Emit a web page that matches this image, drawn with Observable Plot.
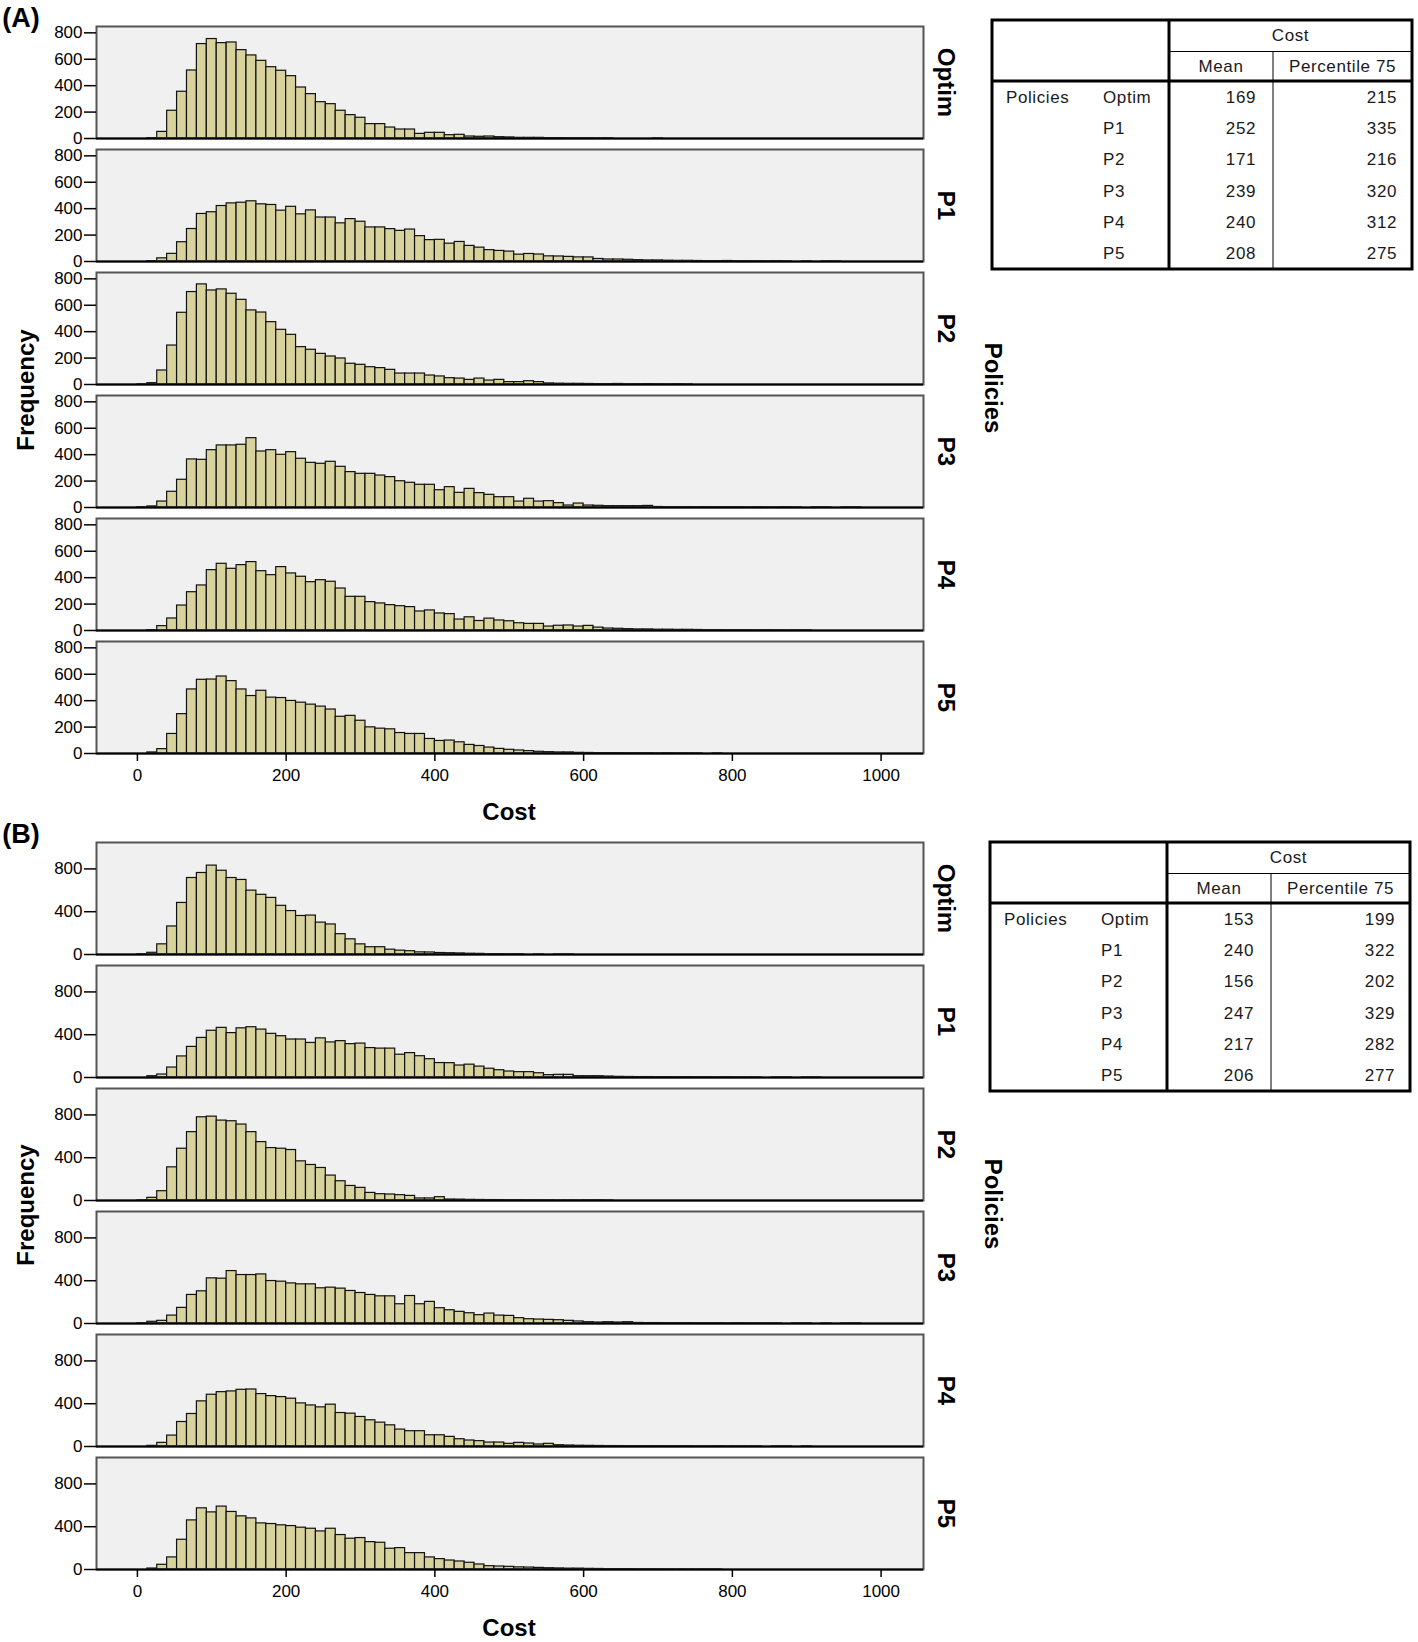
<!DOCTYPE html>
<html>
<head>
<meta charset="utf-8">
<script src="https://cdn.jsdelivr.net/npm/d3@7"></script>
<script src="https://cdn.jsdelivr.net/npm/@observablehq/plot@0.6"></script>
<style>
  body { margin: 0; background: #fff; font-family: "Liberation Sans", Arial, sans-serif; }
  #root { position: relative; width: 1418px; height: 1642px; overflow: hidden; background: #fff; }
  .abs { position: absolute; }
  .tag { position: absolute; font-weight: bold; font-size: 27px; color: #000; line-height: 1; }
  .lbl { position: absolute; font-weight: bold; font-size: 24px; color: #000; white-space: nowrap; line-height: 1; }
</style>
</head>
<body>
<div id="root"></div>
<script>
// ---------------- DATA ----------------
const policies = ["Optim", "P1", "P2", "P3", "P4", "P5"];
const binWidth = 40 / 3;               // cost units per bar (15 bars per 200)
const xTicks = [0, 200, 400, 600, 800, 1000];
const yTicksA = [0, 200, 400, 600, 800];
const yTicksB = [0, 400, 800];

// Frequencies per bin (bin i covers [i*binWidth, (i+1)*binWidth)) — panel (A)
const aOptim = [0,3,50,210,354,515,715,753,722,727,669,629,588,540,513,472,386,336,275,260,210,177,157,109,109,83,68,68,35,43,43,25,28,15,13,15,10,8,5,5,5,3,3,2,2,2,1,2,0,0,0,0,1];
const aP1 = [0,3,24,58,146,246,360,373,420,440,445,456,433,428,385,414,357,387,333,333,289,321,301,258,258,245,232,242,192,162,164,135,148,118,105,86,80,75,52,57,53,39,38,35,31,31,19,15,15,13,10,8,8,6,5,5,4,3,3,4,2,2,2,1,2,1,0,1,0,1,1];
const aP2 = [2,10,106,295,543,700,758,712,720,687,641,561,545,472,414,376,283,263,232,212,197,157,149,131,124,111,83,83,83,68,61,48,45,35,45,30,35,18,18,25,18,8,6,5,5,4,3,3,4,2,2,3,2,1,2,1];
const aP3 = [2,8,45,119,210,364,361,434,470,470,475,525,424,434,399,419,369,338,331,346,308,268,255,255,242,230,199,187,172,172,131,154,111,141,109,96,78,78,45,66,45,48,33,15,30,15,13,10,10,10,10,12,4,3,3,3,2,3,2,2,2,1,2,1,1,2,1,0,1,1,0,1,1];
const aP4 = [0,3,33,91,189,290,341,457,505,467,495,518,449,419,480,432,407,366,381,369,318,255,255,215,205,192,184,177,144,152,129,124,83,100,72,90,76,70,55,50,50,30,36,38,30,35,22,15,13,10,8,8,6,6,5,5,4,3,3,2,2,2,1,2,1,1,1,1];
const aP5 = [0,8,33,148,298,485,558,560,583,548,485,435,475,423,420,398,385,370,355,333,278,285,248,198,188,183,155,148,148,110,95,98,85,65,57,45,35,28,23,18,13,10,8,8,5,4,3,3,3,2,2,2,1,2,1,1,1,0,1];

// Frequencies per bin — panel (B)
const bOptim = [2,16,95,262,482,715,762,831,783,715,697,597,558,529,455,406,360,364,298,281,190,142,95,68,68,45,36,31,20,19,14,12,10,7,6,3,3,2,2,0,1,0,1,1];
const bP1 = [0,12,28,93,197,286,370,437,464,415,460,470,448,408,386,355,355,323,366,328,340,312,317,275,270,270,213,228,199,171,135,134,112,120,102,82,68,56,50,50,40,22,25,25,12,12,12,9,6,5,4,4,3,3,2,3,2,2,1,2,1,1,1,0,1,1,0,1,1];
const bP2 = [2,25,87,310,484,639,778,784,747,741,710,639,546,490,484,472,366,332,304,233,180,136,118,71,59,56,50,43,19,19,31,9,8,6,5,4,4,3,3,2,2,2,1,1,1,2,2,1];
const bP3 = [2,16,25,74,146,267,301,422,419,490,453,453,459,397,391,375,366,366,329,335,326,304,285,267,254,254,180,257,180,202,143,124,109,96,78,93,74,71,50,40,37,34,31,25,19,12,9,12,9,12,5,4,4,3,3,3,2,2,2,1,2,1,1,1,1,0,1,1,0,1,0,1,1];
const bP4 = [0,6,34,102,229,304,422,484,508,515,530,533,490,471,462,447,403,384,366,391,313,307,276,245,223,198,158,143,143,105,105,90,68,56,50,37,37,25,34,28,19,25,12,9,7,6,5,4,4,3,3,3,2,2,2,2,1,1,2,1,1,1,1,0,1,1,0,1];
const bP5 = [0,9,44,113,278,459,572,534,588,538,497,478,431,425,413,406,391,381,356,381,322,288,294,256,250,194,200,153,153,113,97,84,75,63,47,31,28,25,20,18,15,12,10,8,8,6,5,3,3,3,2,2,2,1,1,1,1,1,1];

// Summary tables
const tableTitle = "Cost";
const tableCols = ["Mean", "Percentile 75"];
const tableRowGroup = "Policies";
const meanA = [169, 252, 171, 239, 240, 208];
const p75A  = [215, 335, 216, 320, 312, 275];
const meanB = [153, 240, 156, 247, 217, 206];
const p75B  = [199, 322, 202, 329, 282, 277];

// ---------------- BUILD ----------------
const FONT = "'Liberation Sans', Arial, sans-serif";
const root = document.getElementById("root");

function toRows(seriesList) {
  const rows = [];
  seriesList.forEach((counts, k) => {
    counts.forEach((c, i) => {
      if (c > 0) rows.push({policy: policies[k], x1: i * binWidth, x2: (i + 1) * binWidth, count: c});
    });
  });
  return rows;
}

function histogram(rows, yMax, yTicks) {
  return Plot.plot({
    width: 1010,
    height: 833,
    marginLeft: 96,
    marginRight: 87,
    marginTop: 26,
    marginBottom: 80,
    style: {background: "transparent", fontFamily: FONT, fontSize: "17px", color: "#000", overflow: "visible"},
    x: {domain: [-55, 1057]},
    y: {domain: [0, yMax]},
    fy: {domain: policies, paddingInner: 11 / 123, paddingOuter: 0, axis: null},
    marks: [
      Plot.frame({fill: "#f0f0f0"}),
      Plot.rect(rows, {x1: "x1", x2: "x2", y1: 0, y2: "count", fy: "policy",
        fill: "#d8d39d", stroke: "#111", strokeWidth: 1.2}),
      Plot.frame({stroke: "#555", strokeWidth: 2}),
      Plot.ruleY([0], {stroke: "#000", strokeWidth: 2}),
      Plot.axisY({ticks: yTicks, tickFormat: d3.format("d"), tickSize: 12, tickPadding: 2, label: null, fontSize: 17, stroke: "#000", strokeWidth: 1.5}),
      Plot.axisX({ticks: xTicks, tickFormat: d3.format("d"), tickSize: 8, tickPadding: 7, label: null, fontSize: 17, stroke: "#000", strokeWidth: 1.5}),
      Plot.text(policies, {fy: d => d, text: d => d, frameAnchor: "right", dx: 22, rotate: 90,
        fontWeight: "bold", fontSize: 24, textAnchor: "middle", fill: "#000"})
    ]
  });
}

function place(el, left, top) {
  el.style.position = "absolute";
  el.style.left = left + "px";
  el.style.top = top + "px";
  root.appendChild(el);
}

function label(text, cls, cx, cy, rot) {
  const d = document.createElement("div");
  d.className = cls;
  d.textContent = text;
  d.style.left = cx + "px";
  d.style.top = cy + "px";
  d.style.transform = "translate(-50%,-50%)" + (rot ? ` rotate(${rot}deg)` : "");
  root.appendChild(d);
}

function drawTable(left, top, means, p75s) {
  const W = 420, H = 249;
  const vThick = 177, vThin = 281, hCost = 31.5, hHead = 61;
  const row0 = 77.5, rowStep = 31.2;
  const svg = d3.create("svg").attr("width", W + 4).attr("height", H + 4)
    .style("overflow", "visible").style("font-family", FONT).style("font-size", "17px");
  const g = svg.append("g").attr("transform", "translate(2,2)");
  const line = (x1, y1, x2, y2, w) => g.append("line").attr("x1", x1).attr("y1", y1).attr("x2", x2).attr("y2", y2)
    .attr("stroke", "#000").attr("stroke-width", w);
  g.append("rect").attr("x", 0).attr("y", 0).attr("width", W).attr("height", H)
    .attr("fill", "#fff").attr("stroke", "#000").attr("stroke-width", 3);
  line(vThick, 0, vThick, H, 3);
  line(vThin, hCost, vThin, H, 1);
  line(vThick, hCost, W, hCost, 1);
  line(0, hHead, W, hHead, 3);
  const txt = (t, x, y, anchor) => g.append("text").attr("x", x).attr("y", y).attr("text-anchor", anchor)
    .attr("dominant-baseline", "central").attr("fill", "#1a1a1a").attr("letter-spacing", "0.6px").text(t);
  txt(tableTitle, (vThick + W) / 2, 15.5, "middle");
  txt(tableCols[0], (vThick + vThin) / 2, 46.5, "middle");
  txt(tableCols[1], (vThin + W) / 2, 46.5, "middle");
  txt(tableRowGroup, 14, row0, "start");
  policies.forEach((p, i) => {
    const y = row0 + i * rowStep;
    txt(p, 111, y, "start");
    txt(String(means[i]), 264, y, "end");
    txt(String(p75s[i]), 405, y, "end");
  });
  const node = svg.node();
  place(node, left - 2, top - 2);
}

// Panel A
const chartA = histogram(toRows([aOptim, aP1, aP2, aP3, aP4, aP5]), 848, yTicksA);
place(chartA, 0, 0);
// Panel B
const chartB = histogram(toRows([bOptim, bP1, bP2, bP3, bP4, bP5]), 1047, yTicksB);
place(chartB, 0, 815.7);

// Titles / axis labels
label("(A)", "tag", 21, 18);
label("(B)", "tag", 21, 834);
label("Frequency", "lbl", 26, 389.5, -90);
label("Frequency", "lbl", 26, 1205, -90);
label("Policies", "lbl", 993, 388, 90);
label("Policies", "lbl", 993, 1204, 90);
label("Cost", "lbl", 509, 812);
label("Cost", "lbl", 509, 1628);

// Tables
drawTable(991.7, 20, meanA, p75A);
drawTable(989.5, 842, meanB, p75B);
</script>
</body>
</html>
